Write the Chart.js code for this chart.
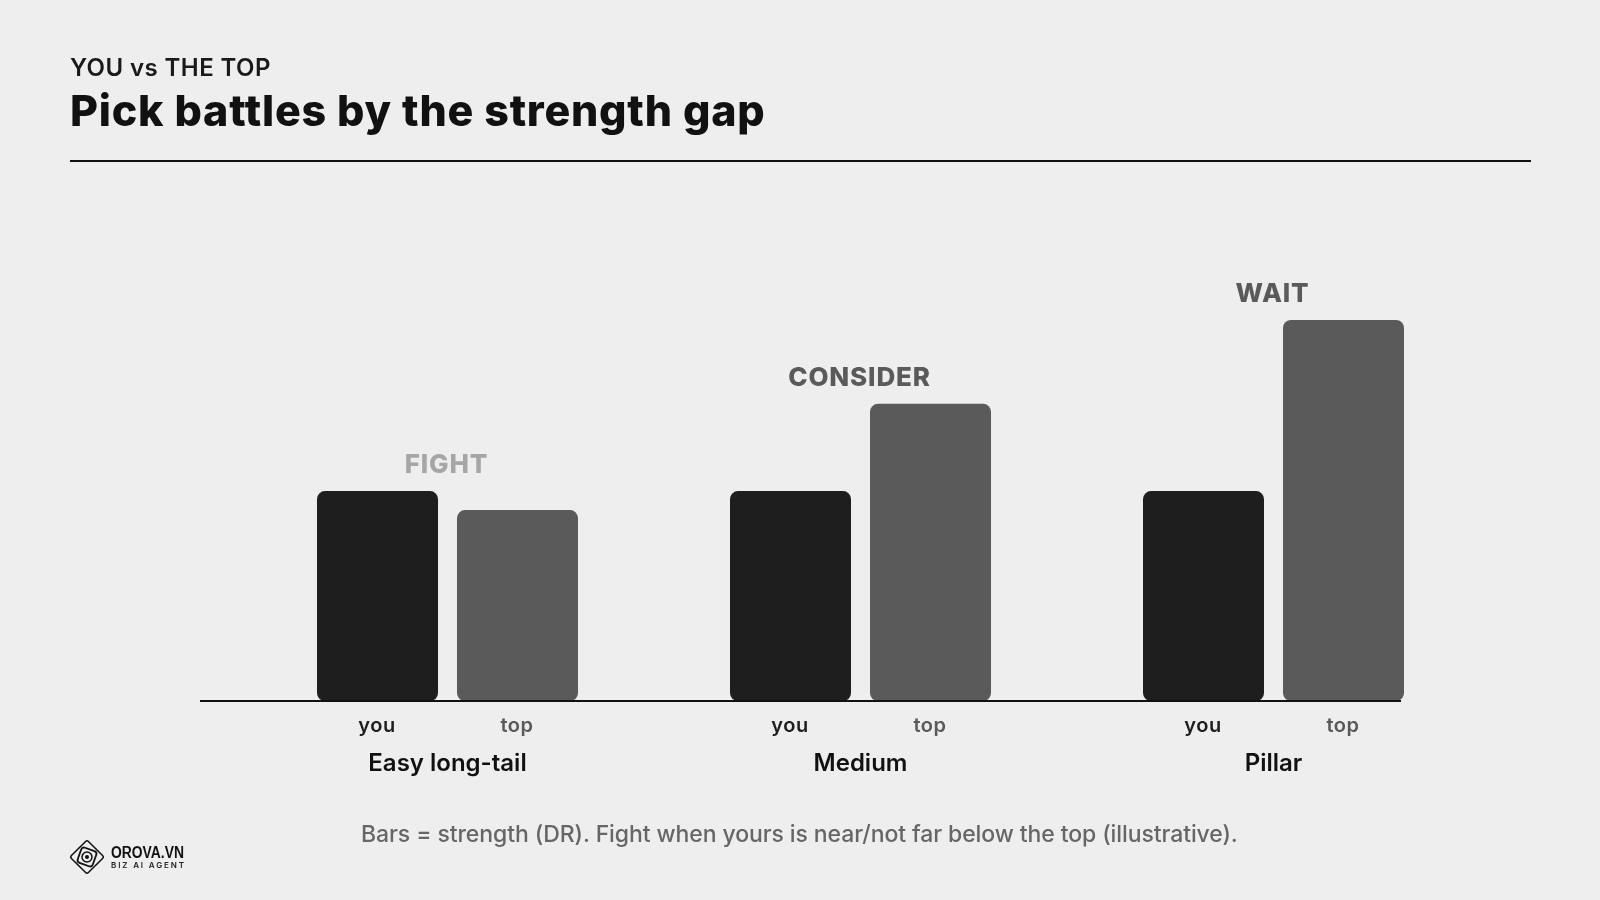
<!DOCTYPE html>
<html><head><meta charset="utf-8">
<script src="https://cdn.jsdelivr.net/npm/chart.js@4"></script>
<style>
html,body{margin:0;padding:0;background:#eeeeee;width:1600px;height:900px;overflow:hidden}
#wrap{position:absolute;left:0;top:0;width:1600px;height:900px}
.t{position:absolute;white-space:nowrap;font-family:Inter,sans-serif}
#sub{left:70px;top:53px;font-size:24px;font-weight:600;color:#1a1a1a;line-height:30px;letter-spacing:0.42px}
#title{left:70px;top:84px;font-size:43px;font-weight:800;color:#111;line-height:52px;letter-spacing:0.76px}
#rule{position:absolute;left:70px;top:160px;width:1461px;height:2px;background:#111}
#note{left:361px;top:818px;font-size:23px;font-weight:500;color:#666;line-height:32px;letter-spacing:-0.09px}
#logo{position:absolute;left:69px;top:838px}
</style></head><body>
<div id="wrap"><canvas id="c" width="1600" height="900"></canvas></div>
<div class="t" id="sub">YOU vs THE TOP</div>
<div class="t" id="title">Pick battles by the strength gap</div>
<div id="rule"></div>
<div class="t" id="note">Bars = strength (DR). Fight when yours is near/not far below the top (illustrative).</div>
<svg id="logo" width="120" height="38" viewBox="0 0 120 38">
 <g fill="none" stroke="#111" transform="translate(18,19)">
  <rect x="-12" y="-12" width="24" height="24" rx="2" transform="rotate(45)" stroke-width="1.5"/>
  <rect x="-8" y="-8" width="16" height="16" rx="3" transform="rotate(20)" stroke-width="1.8"/>
  <circle r="5" stroke-width="1.5"/>
  <circle r="2" fill="#111" stroke="none"/>
 </g>
 <text x="42" y="20" font-family="Liberation Sans" font-weight="700" font-size="16" fill="#111" textLength="73" lengthAdjust="spacingAndGlyphs">OROVA.VN</text>
 <text x="42" y="30" font-family="Inter" font-weight="600" font-size="8" fill="#222" textLength="73">BIZ AI AGENT</text>
</svg>
<script>
const categories = ["Easy long-tail", "Medium", "Pillar"];
const seriesNames = ["you", "top"];
const youValues = [55.1, 55.1, 55.1];
const topValues = [50.1, 78, 100];
const verdicts = ["FIGHT", "CONSIDER", "WAIT"];

const verdictColors = ["#a6a6a6", "#5a5a5a", "#5a5a5a"];
const seriesColors = ["#1e1e1e", "#5a5a5a"];

const annotate = {
  id: "annotate",
  afterDatasetsDraw(chart) {
    const { ctx } = chart;
    const yScale = chart.scales.y, xScale = chart.scales.x;
    ctx.save();
    // baseline
    ctx.strokeStyle = "#111";
    ctx.lineWidth = 2;
    ctx.beginPath();
    ctx.moveTo(200, yScale.getPixelForValue(0));
    ctx.lineTo(1401, yScale.getPixelForValue(0));
    ctx.stroke();
    ctx.textAlign = "center";
    ctx.textBaseline = "alphabetic";
    // per-bar labels
    ctx.letterSpacing = "0.5px";
    chart.data.datasets.forEach((ds, d) => {
      chart.getDatasetMeta(d).data.forEach((bar) => {
        ctx.font = "600 20px Inter";
        ctx.fillStyle = seriesColors[d];
        ctx.fillText(seriesNames[d], bar.x - 0.5, yScale.getPixelForValue(0) + 31);
      });
    });
    // verdicts above tallest bar
    ctx.letterSpacing = "0.85px";
    categories.forEach((c, i) => {
      const top = yScale.getPixelForValue(Math.max(youValues[i], topValues[i]));
      ctx.font = "800 26px Inter";
      ctx.fillStyle = verdictColors[i];
      ctx.fillText(verdicts[i], xScale.getPixelForValue(i) - 1, top - 18);
    });
    ctx.restore();
  }
};

new Chart(document.getElementById("c"), {
  type: "bar",
  data: {
    labels: categories,
    datasets: [
      { label: seriesNames[0], data: youValues, backgroundColor: seriesColors[0] },
      { label: seriesNames[1], data: topValues, backgroundColor: seriesColors[1] }
    ]
  },
  options: {
    responsive: false,
    animation: false,
    devicePixelRatio: 1,
    layout: { padding: { left: 241, right: 120, top: 320, bottom: 0 } },
    plugins: { legend: { display: false }, tooltip: { enabled: false } },
    datasets: { bar: { categoryPercentage: 280 / 413, barPercentage: 121 / 140, borderRadius: 8, borderSkipped: false } },
    scales: {
      x: {
        grid: { display: false, drawTicks: false },
        border: { display: false },
        afterFit(s) { s.height = 199; },
        ticks: { padding: 48, color: "#111", font: { family: "Inter", size: 24, weight: "600" }, maxRotation: 0 }
      },
      y: { display: false, min: 0, max: 100 }
    }
  },
  plugins: [annotate]
});
</script>
</body></html>
